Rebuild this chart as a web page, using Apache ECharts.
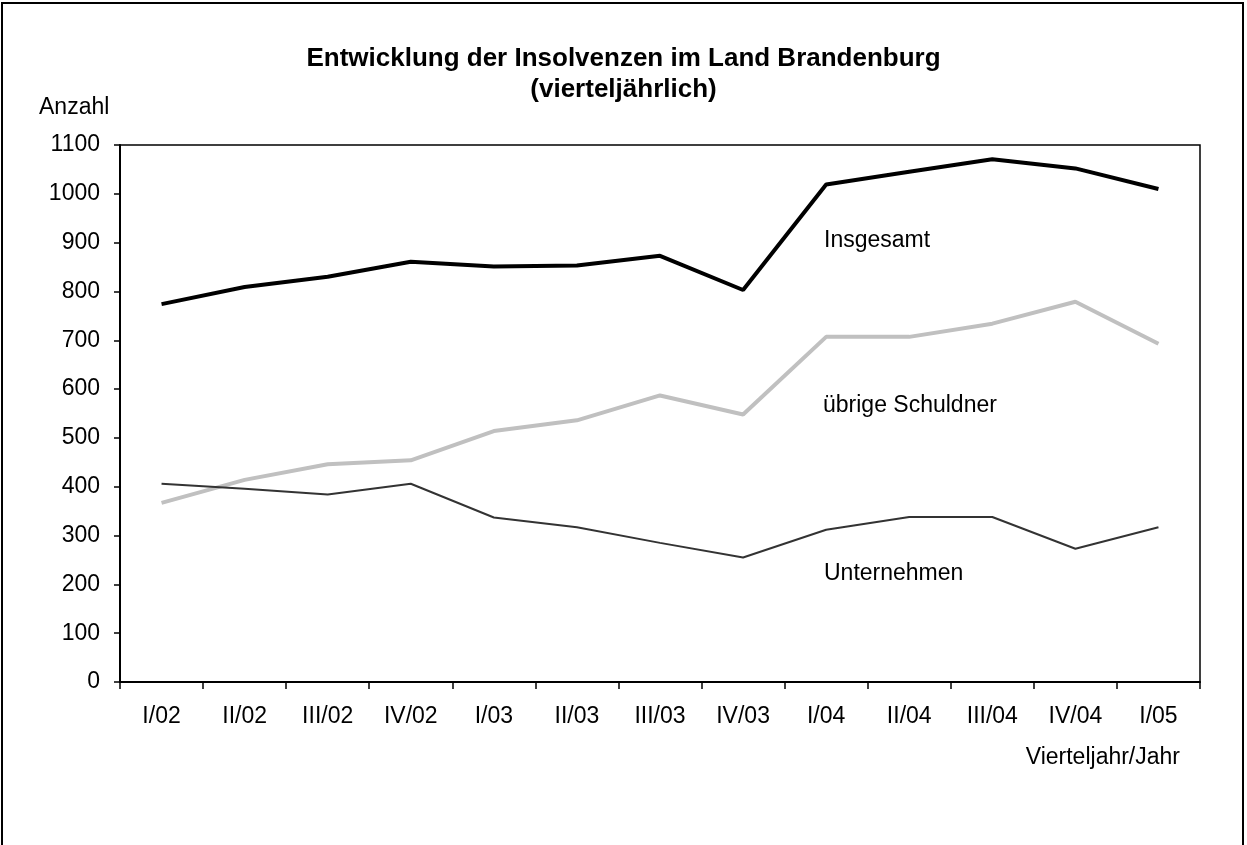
<!DOCTYPE html>
<html>
<head>
<meta charset="utf-8">
<script src="https://cdn.jsdelivr.net/npm/echarts@6/dist/echarts.min.js"></script>
<style>
  html, body { margin: 0; padding: 0; background: #fff; }
  #chart { width: 1247px; height: 845px; }
</style>
</head>
<body>
<div id="chart"></div>
<script>
const quarters = ['I/02', 'II/02', 'III/02', 'IV/02', 'I/03', 'II/03', 'III/03', 'IV/03', 'I/04', 'II/04', 'III/04', 'IV/04', 'I/05']
const insgesamt = [774, 809, 830, 861, 851, 853, 873, 803, 1019, 1045, 1071, 1052, 1010]
const uebrigeSchuldner = [367, 414, 446, 454, 514, 536, 587, 548, 707, 707, 734, 779, 693]
const unternehmen = [406, 396, 384, 406, 337, 317, 285, 255, 312, 338, 338, 273, 317]

const font = '"Liberation Sans", Arial, sans-serif'
const fs = 23

const chart = echarts.init(document.getElementById('chart'))

chart.setOption({
  animation: false,
  backgroundColor: '#fff',
  textStyle: { fontFamily: font },
  title: {
    text: 'Entwicklung der Insolvenzen im Land Brandenburg\n(vierteljährlich)',
    left: 'center',
    top: 38,
    textStyle: { fontFamily: font, fontSize: 26, fontWeight: 'bold', color: '#000', lineHeight: 31 }
  },
  grid: {
    left: 120, right: 47, top: 145, bottom: 163,
    show: true, borderColor: '#000', borderWidth: 1.5, backgroundColor: 'transparent'
  },
  xAxis: {
    type: 'category',
    data: quarters,
    boundaryGap: true,
    axisLine: { lineStyle: { color: '#000', width: 2 } },
    axisTick: { show: true, length: 7, inside: false, lineStyle: { color: '#000', width: 1.5 } },
    axisLabel: { color: '#000', fontSize: fs, margin: 23, fontFamily: font },
    splitLine: { show: false }
  },
  yAxis: {
    type: 'value',
    min: 0, max: 1100, interval: 100,
    axisLine: { show: true, lineStyle: { color: '#000', width: 2 } },
    axisTick: { show: true, length: 6, lineStyle: { color: '#000', width: 1.5 } },
    axisLabel: { color: '#000', fontSize: fs, margin: 20, fontFamily: font, formatter: v => String(v) },
    splitLine: { show: false }
  },
  series: [
    {
      name: 'Insgesamt', type: 'line', data: insgesamt, symbol: 'none',
      lineStyle: { color: '#000', width: 4 }
    },
    {
      name: 'übrige Schuldner', type: 'line', data: uebrigeSchuldner, symbol: 'none',
      lineStyle: { color: '#c0c0c0', width: 4 }
    },
    {
      name: 'Unternehmen', type: 'line', data: unternehmen, symbol: 'none',
      lineStyle: { color: '#333', width: 2 }
    }
  ],
  graphic: [
    // Rahmen um das ganze Bild (unten abgeschnitten)
    { type: 'rect', shape: { x: 2, y: 3, width: 1241, height: 900 }, style: { fill: 'none', stroke: '#000', lineWidth: 2 }, silent: true },
    { type: 'text', left: 39, top: 96, style: { text: 'Anzahl', font: fs + 'px ' + font, fill: '#000' } },
    { type: 'text', right: 67, top: 746, style: { text: 'Vierteljahr/Jahr', font: fs + 'px ' + font, fill: '#000' } },
    { type: 'text', left: 824, top: 229, style: { text: 'Insgesamt', font: fs + 'px ' + font, fill: '#000' } },
    { type: 'text', left: 823, top: 394, style: { text: 'übrige Schuldner', font: fs + 'px ' + font, fill: '#000' } },
    { type: 'text', left: 824, top: 562, style: { text: 'Unternehmen', font: fs + 'px ' + font, fill: '#000' } }
  ]
})
</script>
</body>
</html>
